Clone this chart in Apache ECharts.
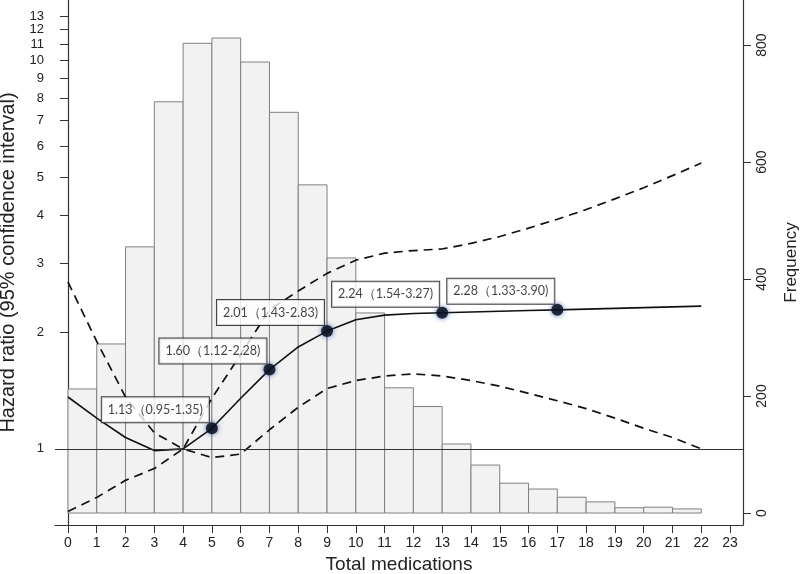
<!DOCTYPE html>
<html>
<head>
<meta charset="utf-8">
<script src="https://cdn.jsdelivr.net/npm/echarts@6/dist/echarts.min.js"></script>
<style>
  html, body { margin: 0; padding: 0; background: #fff; }
  #chart { width: 800px; height: 574px; }
</style>
</head>
<body>
<div id="chart"></div>
<script>
// histogram: bins [k, k+1)
const binStart = [0, 1, 2, 3, 4, 5, 6, 7, 8, 9, 10, 11, 12, 13, 14, 15, 16, 17, 18, 19, 20, 21]
const frequency = [212, 289, 455, 703, 803, 812, 771, 685, 561, 436, 342, 214, 182, 118, 82, 51, 41, 27, 19, 9, 10, 7]

// hazard ratio curve and 95% CI
const medications = [0, 1, 2, 3, 4, 5, 6, 7, 8, 9, 10, 11, 12, 13, 14, 15, 16, 17, 18, 19, 20, 21, 22]
const hazardRatio = [1.36, 1.20, 1.07, 0.99, 1.00, 1.13, 1.35, 1.60, 1.83, 2.01, 2.15, 2.21, 2.23, 2.24, 2.25, 2.26, 2.27, 2.28, 2.29, 2.30, 2.31, 2.32, 2.33]
const ciUpper = [2.69, 1.89, 1.36, 1.10, 1.00, 1.35, 1.75, 2.28, 2.55, 2.83, 3.06, 3.19, 3.24, 3.27, 3.38, 3.52, 3.70, 3.90, 4.13, 4.40, 4.70, 5.05, 5.44]
const ciLower = [0.69, 0.75, 0.83, 0.89, 1.00, 0.95, 0.97, 1.12, 1.28, 1.43, 1.50, 1.54, 1.56, 1.54, 1.50, 1.45, 1.39, 1.33, 1.27, 1.20, 1.13, 1.07, 1.00]

// annotated points
const pointX = [5, 7, 9, 13, 17]
const pointHR = [1.13, 1.60, 2.01, 2.24, 2.28]
const pointLow = [0.95, 1.12, 1.43, 1.54, 1.33]
const pointHigh = [1.35, 2.28, 2.83, 3.27, 3.90]

// tick labels
const xTicks = [0, 1, 2, 3, 4, 5, 6, 7, 8, 9, 10, 11, 12, 13, 14, 15, 16, 17, 18, 19, 20, 21, 22, 23]
const hrTicks = [1, 2, 3, 4, 5, 6, 7, 8, 9, 10, 11, 12, 13]
const freqTicks = [0, 200, 400, 600, 800]

const axisColor = '#333'
const font = 'Liberation Sans, Arial, sans-serif'

const chart = echarts.init(document.getElementById('chart'))

const option = {
  animation: false,
  backgroundColor: '#fff',
  grid: { left: 55, right: 57, top: 0, bottom: 49, outerBoundsMode: 'none' },
  xAxis: {
    type: 'value',
    min: -0.45,
    max: 23.45,
    name: 'Total medications',
    nameLocation: 'middle',
    nameGap: 30,
    nameTextStyle: { fontSize: 19, color: '#222', fontFamily: font },
    axisLine: { onZero: false, lineStyle: { color: axisColor, width: 1.2 } },
    axisTick: { show: true, length: 8, inside: false, customValues: xTicks, lineStyle: { color: axisColor } },
    axisLabel: { customValues: xTicks, fontSize: 14, color: '#222', fontFamily: font, margin: 11, hideOverlap: false },
    splitLine: { show: false }
  },
  yAxis: [
    {
      type: 'log',
      logBase: 2,
      min: 0.637,
      max: 14.3,
      position: 'left',
      name: 'Hazard ratio (95% confidence interval)',
      nameLocation: 'middle',
      nameGap: 26,
      nameTextStyle: { fontSize: 20, color: '#222', fontFamily: font },
      axisLine: { show: true, lineStyle: { color: axisColor, width: 1.2 } },
      axisTick: { show: true, length: 8, customValues: hrTicks, lineStyle: { color: axisColor } },
      axisLabel: { customValues: hrTicks, fontSize: 13, lineHeight: 12, color: '#222', fontFamily: font, margin: 11, hideOverlap: false, showMaxLabel: true, showMinLabel: true },
      splitLine: { show: false },
      minorTick: { show: false }
    },
    {
      type: 'value',
      min: -20.5,
      max: 877,
      position: 'right',
      name: 'Frequency',
      nameLocation: 'middle',
      nameGap: 40,
      nameTextStyle: { fontSize: 17, color: '#222', fontFamily: font, padding: [0, 0, 18, 0] },
      axisLine: { show: true, lineStyle: { color: axisColor, width: 1.2 } },
      axisTick: { show: true, length: 8, customValues: freqTicks, lineStyle: { color: axisColor } },
      axisLabel: { customValues: freqTicks, rotate: 90, fontSize: 14, color: '#222', fontFamily: font, margin: 12 },
      splitLine: { show: false }
    }
  ],
  series: [
    {
      // reference line at HR = 1, drawn behind the bars
      name: 'ref',
      type: 'line',
      yAxisIndex: 0,
      data: [],
      z: 1,
      markLine: {
        silent: true,
        symbol: 'none',
        label: { show: false },
        lineStyle: { color: '#333', type: 'solid', width: 1.2 },
        data: [{ yAxis: 1 }]
      }
    },
    {
      name: 'Frequency',
      type: 'custom',
      yAxisIndex: 1,
      z: 2,
      encode: { x: [0, 1], y: 2 },
      data: binStart.map((b, i) => [b, b + 1, frequency[i]]),
      renderItem: function (params, api) {
        const tl = api.coord([api.value(0), api.value(2)])
        const br = api.coord([api.value(1), 0])
        return {
          type: 'rect',
          shape: { x: tl[0], y: tl[1], width: br[0] - tl[0], height: br[1] - tl[1] },
          style: { fill: '#f2f2f2', stroke: '#808080', lineWidth: 1 }
        }
      }
    },
    {
      name: 'upper',
      type: 'line',
      yAxisIndex: 0,
      z: 3,
      symbol: 'none',
      data: medications.map((m, i) => [m, ciUpper[i]]),
      lineStyle: { color: '#111', width: 1.7, type: [9, 6] }
    },
    {
      name: 'lower',
      type: 'line',
      yAxisIndex: 0,
      z: 3,
      symbol: 'none',
      data: medications.map((m, i) => [m, ciLower[i]]),
      lineStyle: { color: '#111', width: 1.7, type: [9, 6] }
    },
    {
      name: 'HR',
      type: 'line',
      yAxisIndex: 0,
      z: 3,
      symbol: 'none',
      data: medications.map((m, i) => [m, hazardRatio[i]]),
      lineStyle: { color: '#111', width: 1.6 }
    },
    {
      name: 'points',
      type: 'scatter',
      yAxisIndex: 0,
      z: 4,
      symbolSize: 12,
      data: pointX.map((x, i) => [x, pointHR[i]]),
      itemStyle: { color: '#05070f', shadowBlur: 5, shadowColor: '#2a5aa8' },
      label: {
        show: true,
        position: [3, 0],
        align: 'right',
        verticalAlign: 'bottom',
        formatter: (p) => {
          const i = p.dataIndex
          return pointHR[i].toFixed(2) + '（' + pointLow[i].toFixed(2) + '-' + pointHigh[i].toFixed(2) + ')'
        },
        fontSize: 12.5,
        fontFamily: 'Lato, Carlito, sans-serif',
        color: '#111',
        backgroundColor: '#fff',
        borderColor: '#111',
        borderWidth: 1,
        padding: [6, 6]
      },
      labelLayout: { hideOverlap: false }
    }
  ]
}

chart.setOption(option)
</script>
</body>
</html>
